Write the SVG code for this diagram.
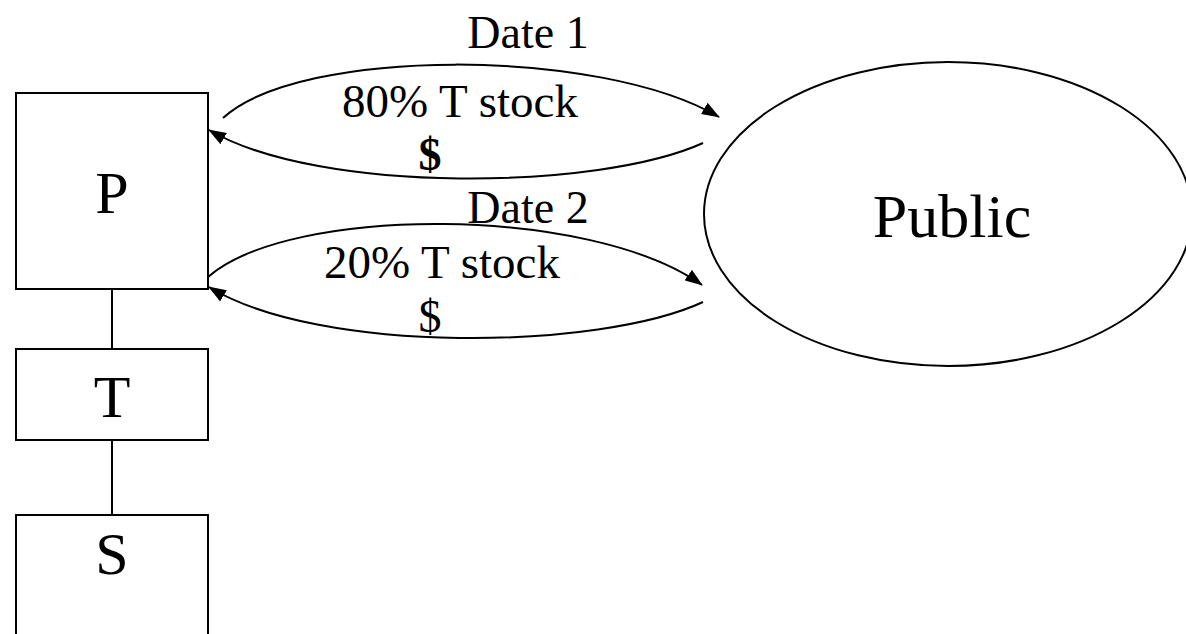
<svg xmlns="http://www.w3.org/2000/svg" width="1186" height="634" viewBox="0 0 1186 634">
<style>
.box{fill:#fff;stroke:#000;stroke-width:2}
.ln{fill:none;stroke:#000;stroke-width:2}
.t{font-family:'Liberation Serif','DejaVu Serif',serif;fill:#000;text-anchor:middle}
</style>
<defs>
<marker id="ah" markerWidth="18" markerHeight="13" refX="17" refY="6.5" orient="auto" markerUnits="userSpaceOnUse">
<path d="M0,0 L18,6.5 L0,13 Z" fill="#000"/>
</marker>
</defs>
<rect width="1186" height="634" fill="#fff"/>
<g id="links">
<line class="ln" x1="112" y1="289" x2="112" y2="349"/>
<line class="ln" x1="112" y1="440" x2="112" y2="515"/>
<path class="ln" d="M223,118 C300,47 600,47 719,117" marker-end="url(#ah)"/>
<path class="ln" d="M703,143 C600,190 320,195 209,130" marker-end="url(#ah)"/>
<path class="ln" d="M208,277 C290,205 590,205 702,285" marker-end="url(#ah)"/>
<path class="ln" d="M703,302 C600,350 320,355 209,287" marker-end="url(#ah)"/>
</g>
<g id="node-P">
<rect class="box" x="16" y="93" width="192" height="196"/>
<text class="t" x="112" y="213" font-size="60">P</text>
</g>
<g id="node-T">
<rect class="box" x="16" y="349" width="192" height="91"/>
<text class="t" x="112" y="417" font-size="60">T</text>
</g>
<g id="node-S">
<rect class="box" x="16" y="515" width="192" height="130"/>
<text class="t" x="112" y="574" font-size="60">S</text>
</g>
<g id="node-Public">
<ellipse class="box" cx="948" cy="214" rx="244" ry="152"/>
<text class="t" x="952" y="237" font-size="62">Public</text>
</g>
<g id="labels">
<text class="t" x="528" y="48" font-size="46">Date 1</text>
<text class="t" x="460" y="117" font-size="47">80% T stock</text>
<text class="t" x="430" y="170" font-size="46" font-weight="bold">$</text>
<text class="t" x="528" y="223" font-size="46">Date 2</text>
<text class="t" x="442" y="278" font-size="47">20% T stock</text>
<text class="t" x="430" y="332" font-size="46">$</text>
</g>
</svg>
